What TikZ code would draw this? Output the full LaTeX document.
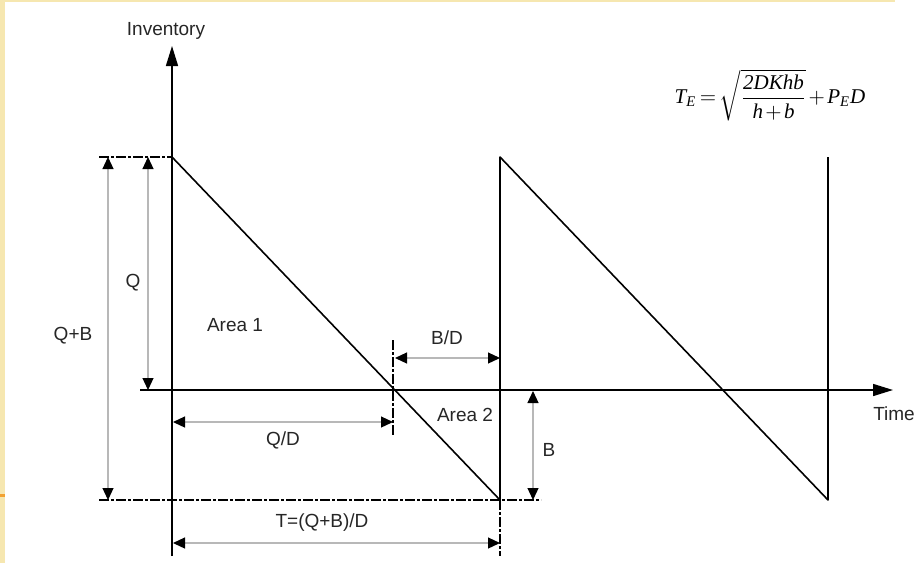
\documentclass[tikz,border=0pt]{standalone}
\usepackage{amsmath}
\usepackage{fontspec}
\setsansfont{Liberation Sans}
\newfontfamily\termes{Liberation Serif}
\newcommand{\tv}[1]{\text{\termes\itshape #1}}
\usetikzlibrary{arrows.meta,positioning}
\definecolor{slidebg}{RGB}{246,231,176}
\definecolor{slidemark}{RGB}{242,162,50}
\tikzset{
  lbl/.style={font=\sffamily\fontsize{19}{22}\selectfont, text=black!85, inner sep=1pt},
  axis/.style={line width=1.5pt, -{Triangle[length=20pt,width=12pt]}},
  saw/.style={line width=1.6pt, line join=round},
  dimline/.style={draw=black!28, line width=1.2pt,
    {Triangle[black,length=12pt,width=11pt]}-{Triangle[black,length=12pt,width=11pt]}},
  guide/.style={line width=1.2pt, dash pattern=on 10pt off 2pt on 3pt off 2pt}
}

\begin{document}
\begin{tikzpicture}[x=1pt,y=-1pt]
\useasboundingbox (0,0) rectangle (917,563);

% Slide border
\fill[slidebg] (0,0) rectangle (5,563);
\fill[slidebg] (0,0) rectangle (895,2);
\fill[slidemark] (0,494) rectangle (5,497);

% Key points of the inventory curve
\coordinate (top) at (172,157);
\coordinate (low) at (500,500);
\coordinate (peak) at (500,157);
\coordinate (low2) at (828,500);
\coordinate (peak2) at (828,157);

% Axes
\coordinate (ybot) at (172,556);
\coordinate (ytip) at (172,46);
\coordinate (xleft) at (140,390);
\coordinate (xtip) at (893,390);
\draw[axis] (ybot) -- (ytip);
\draw[axis] (xleft) -- (xtip);
\node[lbl] (inv) at (166,31) {Inventory};
\node[lbl] (time) at (894,414) {Time};

% Sawtooth
\draw[saw] (top) -- (low) -- (peak) -- (low2) -- (peak2);

% Guide lines
\coordinate (gtl) at (99,157);
\coordinate (gbl) at (99,500);
\coordinate (gbr) at (541,500);
\coordinate (gq1) at (393,340);
\coordinate (gq2) at (393,435);
\coordinate (gt) at (500,556);
\draw[guide] (gtl) -- (top);
\draw[guide] (gbl) -- (gbr);
\draw[guide] (gq1) -- (gq2);
\draw[guide] (low) -- (gt);

% Dimensions
\coordinate (qb1) at (108,157);
\coordinate (qb2) at (108,500);
\coordinate (q1) at (148,157);
\coordinate (q2) at (148,390);
\coordinate (qd1) at (173,422);
\coordinate (qd2) at (393,422);
\coordinate (bd1) at (395,358);
\coordinate (bd2) at (500,358);
\coordinate (b1) at (533,391);
\coordinate (b2) at (533,500);
\coordinate (t1) at (173,543);
\coordinate (t2) at (500,543);
\draw[dimline] (qb1) -- (qb2);
\draw[dimline] (q1) -- (q2);
\draw[dimline] (qd1) -- (qd2);
\draw[dimline] (bd1) -- (bd2);
\draw[dimline] (b1) -- (b2);
\draw[dimline] (t1) -- (t2);

% Labels
\node[lbl] (lQB) at (73,336) {Q+B};
\node[lbl] (lQ) at (133,283) {Q};
\node[lbl] (area1) at (235,325) {Area 1};
\node[lbl] (lQD) at (283,440) {Q/D};
\node[lbl] (lBD) at (447,338) {B/D};
\node[lbl] (area2) at (465,415) {Area 2};
\node[lbl] (lB) at (549,450) {B};
\node[lbl] (lT) at (322,523) {T=(Q+B)/D};

% Formula
\node (formula) at (770,95) {\scalebox{2.1}{\thickmuskip=3mu \medmuskip=2mu
  $\displaystyle \tv{T}_{\tv{E}}=\sqrt{\frac{\tv{2DKhb}}{\tv{h}+\tv{b}}}+\tv{P}_{\tv{E}}\tv{D}$}};

\end{tikzpicture}
\end{document}
